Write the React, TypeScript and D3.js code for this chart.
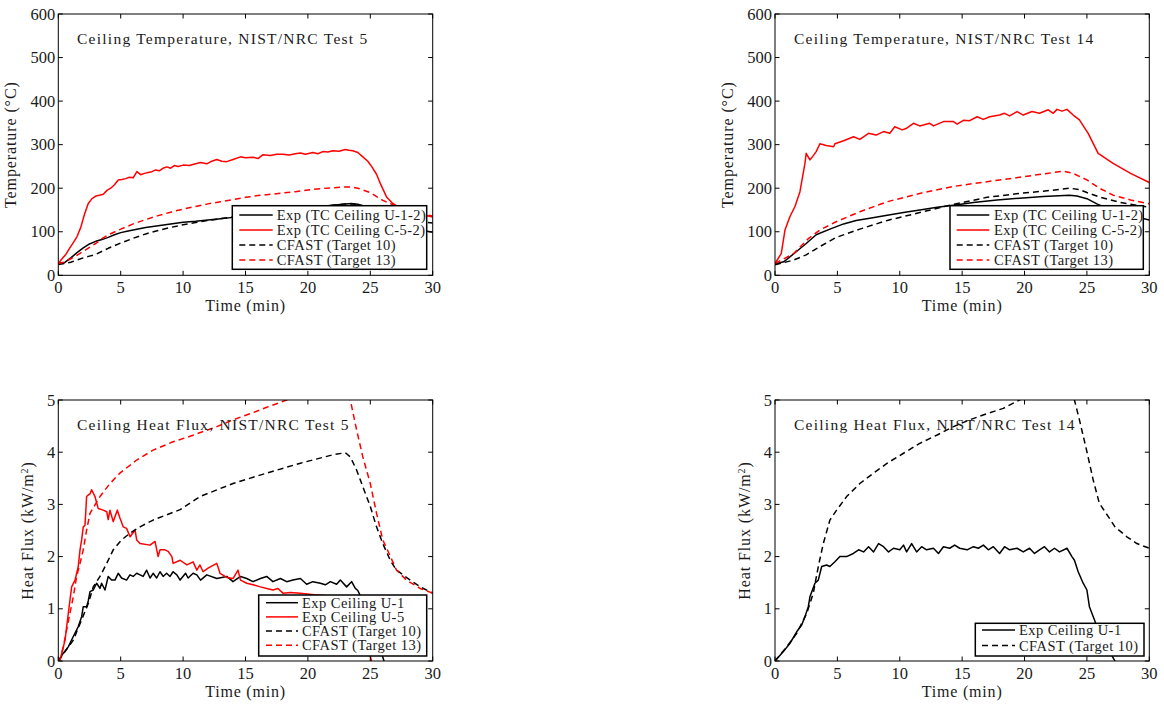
import React from 'react';
import * as d3 from 'd3';

// ---------------- DATA ----------------
const xTicks = [0, 5, 10, 15, 20, 25, 30];
const tempTicks = [0, 100, 200, 300, 400, 500, 600];
const fluxTicks = [0, 1, 2, 3, 4, 5];

// Test 5 ceiling temperature
const t5ExpU_t = [0, 0.5, 1, 1.5, 2, 2.5, 3, 3.5, 4, 4.5, 5, 5.5, 6, 7, 8, 9, 10, 11, 12, 13, 14, 15, 16, 17, 18, 19, 20, 21, 22, 23, 23.5, 24, 25, 26, 27, 28, 29, 30];
const t5ExpU_v = [27, 29, 40, 52, 63, 72, 78, 82, 87, 93, 98, 101, 104, 110, 114, 118, 122, 124, 127, 130, 133, 136, 140, 144, 148, 152, 155, 158, 161, 164, 165, 163, 155, 140, 125, 112, 104, 99];
const t5ExpC_t = [0, 0.3, 0.6, 0.9, 1.2, 1.5, 1.8, 2.1, 2.4, 2.7, 3.0, 3.3, 3.6, 3.9, 4.2, 4.5, 4.8, 5.1, 5.4, 5.7, 6.0, 6.3, 6.6, 6.9, 7.2, 7.5, 7.8, 8.1, 8.4, 8.7, 9.0, 9.3, 9.6, 10, 10.5, 11, 11.4, 11.9, 12.3, 12.7, 13.1, 13.5, 14, 14.6, 15, 15.6, 16, 16.4, 17, 17.5, 18, 18.5, 19, 19.4, 19.8, 20.4, 20.8, 21.2, 21.6, 22, 22.5, 23, 23.3, 23.6, 24, 24.4, 24.8, 25.1, 25.5, 25.8, 26.3, 26.8, 27.3, 28, 29, 30];
const t5ExpC_v = [27, 38, 48, 62, 75, 89, 110, 140, 165, 176, 182, 184, 186, 195, 200, 208, 219, 220, 222, 225, 224, 238, 231, 234, 236, 238, 242, 240, 246, 249, 246, 252, 250, 253, 252, 256, 259, 256, 262, 266, 262, 261, 266, 272, 270, 271, 268, 277, 275, 278, 278, 276, 279, 281, 278, 282, 279, 284, 283, 286, 285, 289, 287, 286, 282, 272, 262, 250, 232, 211, 180, 165, 156, 148, 140, 134];
const t5Cf10_t = [0, 0.5, 1, 1.5, 2, 2.5, 3, 4, 5, 6, 7, 8, 9, 10, 11, 12, 13, 14, 16, 18, 20, 22, 23, 23.5, 24, 25, 26, 27, 28, 29, 30];
const t5Cf10_v = [25, 27, 30, 35, 40, 44, 48, 62, 74, 85, 95, 103, 110, 116, 121, 126, 130, 134, 142, 149, 155, 161, 164, 164, 161, 153, 143, 134, 127, 123, 120];
const t5Cf13_t = [0, 0.5, 1, 1.5, 2, 2.5, 3, 3.5, 4, 5, 6, 7, 8, 9, 10, 11, 12, 13, 14, 15, 16, 17, 18, 19, 20, 21, 22, 23, 23.5, 24, 25, 26, 27, 28, 29, 30];
const t5Cf13_v = [27, 30, 38, 46, 55, 64, 73, 84, 93, 106, 118, 128, 137, 145, 152, 158, 164, 169, 174, 179, 183, 186, 189, 192, 196, 199, 201, 203, 203, 200, 190, 172, 160, 150, 142, 136];

// Test 14 ceiling temperature
const t14ExpU_t = [0, 0.7, 1.7, 2.5, 3.3, 4.4, 5.5, 6.5, 7.6, 9, 10.3, 11.6, 13, 14.3, 15.9, 17.8, 19.6, 21.5, 23.6, 24.2, 25, 25.8, 26.6, 27.5, 28.5, 30];
const t14ExpU_v = [26, 31, 54, 73, 93, 106, 118, 126, 131, 138, 144, 150, 156, 161, 167, 173, 177, 181, 184, 182, 176, 164, 154, 145, 137, 127];
const t14ExpC_t = [0, 0.5, 0.8, 1.2, 1.6, 2, 2.4, 2.5, 2.8, 3.1, 3.3, 3.6, 4.1, 4.7, 4.8, 5.5, 6.3, 6.8, 7.5, 8.1, 8.7, 9.2, 9.6, 10.2, 10.5, 11.1, 11.6, 12.4, 12.7, 13.5, 14.3, 14.6, 15.1, 15.6, 16.2, 16.7, 17.2, 18, 18.4, 18.8, 19.4, 19.9, 20.6, 21.2, 21.9, 22.3, 22.6, 23, 23.4, 23.9, 24.4, 25.1, 25.9, 27.1, 28.5, 30];
const t14ExpC_v = [27, 50, 104, 135, 158, 192, 257, 280, 265, 276, 284, 302, 298, 295, 302, 309, 318, 312, 326, 322, 330, 326, 341, 334, 337, 349, 343, 349, 343, 353, 353, 347, 356, 355, 364, 358, 364, 368, 372, 366, 376, 368, 376, 372, 380, 372, 381, 377, 381, 368, 357, 326, 280, 257, 234, 213];
const t14Cf10_t = [0, 1.5, 2.5, 3.6, 4.9, 6.8, 9, 11.6, 14.3, 17, 19.6, 21.8, 23.6, 24.4, 25, 26.1, 27.7, 30];
const t14Cf10_v = [24, 35, 47, 66, 87, 106, 126, 144, 163, 179, 188, 194, 200, 197, 190, 179, 167, 156];
const t14Cf13_t = [0, 1.5, 2.7, 3.6, 4.9, 6.8, 9, 11.6, 14.3, 17, 19.6, 21.8, 23.1, 23.9, 25, 26, 27.1, 28.5, 30];
const t14Cf13_v = [27, 50, 85, 104, 123, 146, 169, 188, 204, 215, 225, 234, 239, 234, 219, 200, 184, 173, 164];

// Test 5 ceiling heat flux
const f5ExpU1_t = [0, 0.4, 0.8, 1.2, 1.6, 1.87, 2.0, 2.27, 2.4, 2.54, 2.8, 3.07, 3.34, 3.47, 3.74, 4.0, 4.27, 4.54, 4.8, 5.07, 5.47, 5.74, 6.0, 6.28, 6.55, 6.8, 7.08, 7.35, 7.6, 7.88, 8.15, 8.4, 8.68, 8.95, 9.2, 9.5, 9.76, 10.2, 10.4, 10.8, 11.1, 11.4, 11.9, 12.7, 13.5, 14.0, 14.6, 15.1, 15.6, 16.2, 16.7, 17.2, 17.8, 18.3, 18.8, 19.4, 19.9, 20.4, 21.0, 21.4, 21.8, 22.3, 22.6, 23.1, 23.5, 23.8, 24.0, 24.5, 25.0, 25.5, 26.1, 26.6];
const f5ExpU1_v = [0, 0.15, 0.27, 0.47, 0.66, 0.85, 1.04, 1.04, 1.15, 1.33, 1.36, 1.49, 1.39, 1.49, 1.36, 1.62, 1.55, 1.55, 1.68, 1.59, 1.55, 1.65, 1.62, 1.68, 1.65, 1.62, 1.74, 1.59, 1.68, 1.59, 1.71, 1.62, 1.68, 1.62, 1.71, 1.65, 1.55, 1.68, 1.59, 1.68, 1.65, 1.55, 1.65, 1.58, 1.62, 1.52, 1.62, 1.58, 1.52, 1.58, 1.62, 1.52, 1.58, 1.52, 1.55, 1.58, 1.47, 1.52, 1.49, 1.46, 1.52, 1.47, 1.55, 1.42, 1.52, 1.39, 1.35, 1.1, 0.8, 0.45, 0, -0.3];
const f5ExpU5_t = [0, 0.14, 0.54, 0.8, 1.07, 1.34, 1.6, 1.74, 1.87, 2.0, 2.14, 2.27, 2.4, 2.54, 2.67, 2.94, 3.2, 3.6, 3.88, 4.0, 4.14, 4.4, 4.73, 4.94, 5.2, 5.47, 5.75, 6.15, 6.28, 6.55, 7.35, 7.75, 8.0, 8.15, 8.55, 8.8, 9.1, 9.2, 9.76, 10.3, 10.8, 11.1, 11.35, 11.6, 12.0, 12.7, 12.96, 13.5, 14.0, 14.4, 14.6, 15.1, 15.6, 16.2, 16.7, 17.2, 17.6, 18.0, 18.6, 19.4, 20.5, 21.5, 22.5, 23.5, 24.2, 25.1, 25.6];
const f5ExpU5_v = [0, 0.02, 0.4, 0.91, 1.42, 1.55, 1.81, 2.13, 2.32, 2.57, 2.6, 3.15, 3.18, 3.2, 3.28, 3.15, 2.92, 2.89, 2.86, 2.71, 2.89, 2.67, 2.89, 2.74, 2.57, 2.54, 2.38, 2.51, 2.32, 2.25, 2.22, 2.29, 2.0, 2.13, 2.13, 2.1, 2.0, 1.87, 1.93, 1.84, 1.9, 1.74, 1.84, 1.71, 1.78, 1.87, 1.68, 1.6, 1.58, 1.74, 1.55, 1.49, 1.46, 1.42, 1.39, 1.36, 1.39, 1.3, 1.31, 1.3, 1.27, 1.25, 1.22, 1.15, 0.8, 0, -0.3];
const f5Cf10_t = [0, 1.2, 1.87, 2.4, 2.8, 3.34, 3.88, 4.4, 5.07, 5.75, 6.55, 7.6, 8.68, 9.76, 11.35, 14, 16.7, 19.4, 22, 23.0, 23.4, 23.9, 24.4, 25.0, 25.5, 26.0, 26.6, 27.1, 28.2, 29, 30];
const f5Cf10_v = [0, 0.4, 0.79, 1.1, 1.42, 1.62, 1.87, 2.13, 2.32, 2.45, 2.57, 2.7, 2.8, 2.9, 3.15, 3.4, 3.6, 3.79, 3.95, 3.99, 3.91, 3.66, 3.34, 2.96, 2.57, 2.25, 1.93, 1.74, 1.55, 1.42, 1.3];
const f5Cf13_t = [0, 0.14, 0.4, 0.67, 0.94, 1.2, 1.47, 1.74, 2.0, 2.27, 2.54, 2.94, 3.34, 4.14, 4.94, 6.28, 7.6, 9.2, 10.5, 12.7, 14.0, 15.4, 16.7, 18.3, 20, 22, 23, 23.4, 23.9, 24.4, 25.0, 25.5, 26.0, 26.5, 27.1, 27.9, 29, 30];
const f5Cf13_v = [0, 0.02, 0.27, 0.6, 0.92, 1.23, 1.62, 1.87, 2.13, 2.51, 2.83, 2.99, 3.15, 3.4, 3.6, 3.85, 4.04, 4.2, 4.3, 4.49, 4.62, 4.74, 4.86, 5.0, 5.15, 5.3, 5.35, 5.0, 4.43, 3.91, 3.4, 2.83, 2.32, 2.06, 1.74, 1.55, 1.39, 1.3];

// Test 14 ceiling heat flux
const f14ExpU1_t = [0, 0.67, 1.2, 1.74, 2.14, 2.4, 2.67, 2.8, 3.2, 3.47, 3.74, 4.14, 4.4, 4.8, 5.2, 5.74, 6.28, 6.7, 7.1, 7.5, 7.9, 8.3, 8.7, 9.1, 9.5, 10.0, 10.3, 10.55, 10.95, 11.35, 11.75, 12.15, 12.7, 13.1, 13.5, 14.0, 14.4, 14.8, 15.4, 15.9, 16.3, 16.7, 17.1, 17.5, 18.0, 18.4, 18.8, 19.4, 19.9, 20.4, 20.8, 21.2, 21.6, 22.0, 22.4, 22.8, 23.4, 23.8, 24.0, 24.3, 24.7, 25.0, 25.2, 25.6, 26.0, 26.6, 27.25, 27.8];
const f14ExpU1_v = [0, 0.18, 0.34, 0.56, 0.69, 0.85, 1.04, 1.23, 1.49, 1.55, 1.81, 1.84, 1.81, 1.9, 2.0, 2.0, 2.06, 2.13, 2.09, 2.19, 2.09, 2.25, 2.19, 2.09, 2.16, 2.13, 2.22, 2.09, 2.25, 2.09, 2.19, 2.13, 2.16, 2.06, 2.19, 2.16, 2.22, 2.16, 2.13, 2.19, 2.16, 2.22, 2.13, 2.19, 2.06, 2.19, 2.13, 2.16, 2.09, 2.16, 2.06, 2.13, 2.19, 2.09, 2.16, 2.09, 2.16, 2.0, 1.93, 1.71, 1.49, 1.36, 1.04, 0.79, 0.53, 0.27, 0, -0.3];
const f14Cf10_t = [0, 0.94, 1.74, 2.54, 3.07, 3.47, 3.87, 4.4, 4.94, 5.74, 6.8, 7.9, 9, 10.3, 11.6, 13, 14.3, 15.6, 17, 18.3, 19.6, 21.5, 23, 24.0, 24.4, 25.0, 25.5, 26.0, 26.7, 27.25, 28.2, 29.0, 30];
const f14Cf10_v = [0, 0.27, 0.53, 0.91, 1.3, 1.81, 2.25, 2.7, 2.89, 3.15, 3.4, 3.6, 3.79, 3.98, 4.17, 4.33, 4.49, 4.62, 4.74, 4.84, 5.0, 5.3, 5.5, 5.0, 4.62, 4.01, 3.47, 3.02, 2.77, 2.57, 2.38, 2.25, 2.16];

// ---------------- LAYOUT ----------------
type S = { t: number[]; v: number[]; color: string; dashed: boolean; label: string };

const RED = '#ff0000';
const BLK = '#000000';

const panels = [
  {
    id: 'p1', left: 58.3, right: 432.7, top: 14, bottom: 275.3, ymax: 600, yticks: tempTicks,
    title: 'Ceiling Temperature, NIST/NRC Test 5', titleX: 77, titleY: 44,
    ylab: 'temp', ylabX: 16,
    legend: { x: 232.3, y: 205.7, w: 194.4, h: 63.6, sx0: 239.3, sx1: 272.7, tx: 276.7, r0: 215, dr: 15 },
    series: [
      { t: t5ExpU_t, v: t5ExpU_v, color: BLK, dashed: false, label: 'Exp (TC Ceiling U-1-2)' },
      { t: t5ExpC_t, v: t5ExpC_v, color: RED, dashed: false, label: 'Exp (TC Ceiling C-5-2)' },
      { t: t5Cf10_t, v: t5Cf10_v, color: BLK, dashed: true, label: 'CFAST (Target 10)' },
      { t: t5Cf13_t, v: t5Cf13_v, color: RED, dashed: true, label: 'CFAST (Target 13)' },
    ] as S[],
  },
  {
    id: 'p2', left: 775, right: 1149.3, top: 14, bottom: 275.3, ymax: 600, yticks: tempTicks,
    title: 'Ceiling Temperature, NIST/NRC Test 14', titleX: 794, titleY: 44,
    ylab: 'temp', ylabX: 733,
    legend: { x: 950, y: 205.7, w: 193.3, h: 63.6, sx0: 956.7, sx1: 989.3, tx: 994, r0: 215, dr: 15 },
    series: [
      { t: t14ExpU_t, v: t14ExpU_v, color: BLK, dashed: false, label: 'Exp (TC Ceiling U-1-2)' },
      { t: t14ExpC_t, v: t14ExpC_v, color: RED, dashed: false, label: 'Exp (TC Ceiling C-5-2)' },
      { t: t14Cf10_t, v: t14Cf10_v, color: BLK, dashed: true, label: 'CFAST (Target 10)' },
      { t: t14Cf13_t, v: t14Cf13_v, color: RED, dashed: true, label: 'CFAST (Target 13)' },
    ] as S[],
  },
  {
    id: 'p3', left: 58.3, right: 432.7, top: 400, bottom: 661, ymax: 5, yticks: fluxTicks,
    title: 'Ceiling Heat Flux, NIST/NRC Test 5', titleX: 77, titleY: 430,
    ylab: 'flux', ylabX: 33,
    legend: { x: 258.7, y: 595, w: 168, h: 61, sx0: 266, sx1: 298, tx: 302, r0: 602.7, dr: 14.2 },
    series: [
      { t: f5ExpU1_t, v: f5ExpU1_v, color: BLK, dashed: false, label: 'Exp Ceiling U-1' },
      { t: f5ExpU5_t, v: f5ExpU5_v, color: RED, dashed: false, label: 'Exp Ceiling U-5' },
      { t: f5Cf10_t, v: f5Cf10_v, color: BLK, dashed: true, label: 'CFAST (Target 10)' },
      { t: f5Cf13_t, v: f5Cf13_v, color: RED, dashed: true, label: 'CFAST (Target 13)' },
    ] as S[],
  },
  {
    id: 'p4', left: 775, right: 1149.3, top: 400, bottom: 661, ymax: 5, yticks: fluxTicks,
    title: 'Ceiling Heat Flux, NIST/NRC Test 14', titleX: 794, titleY: 430,
    ylab: 'flux', ylabX: 750,
    legend: { x: 975.3, y: 623.3, w: 168.7, h: 32.7, sx0: 982, sx1: 1015, tx: 1019, r0: 630, dr: 15.5 },
    series: [
      { t: f14ExpU1_t, v: f14ExpU1_v, color: BLK, dashed: false, label: 'Exp Ceiling U-1' },
      { t: f14Cf10_t, v: f14Cf10_v, color: BLK, dashed: true, label: 'CFAST (Target 10)' },
    ] as S[],
  },
];

const FONT = '"Liberation Serif", "Times New Roman", serif';
const TXT = '#1a1a1a';

function Panel({ p }: { p: typeof panels[number] }) {
  const x = d3.scaleLinear().domain([0, 30]).range([p.left, p.right]);
  const y = d3.scaleLinear().domain([0, p.ymax]).range([p.bottom, p.top]);
  const line = d3.line<[number, number]>().x(d => x(d[0])).y(d => y(d[1]));
  const tk = 4.5;
  const midY = (p.top + p.bottom) / 2;
  const L = p.legend;
  return (
    <g>
      <defs>
        <clipPath id={'clip-' + p.id}>
          <rect x={p.left} y={p.top} width={p.right - p.left} height={p.bottom - p.top} />
        </clipPath>
      </defs>
      <g clipPath={`url(#clip-${p.id})`}>
        {p.series.map((s, i) => (
          <path key={i} d={line(s.t.map((t, j) => [t, s.v[j]] as [number, number])) || ''}
            fill="none" stroke={s.color} strokeWidth={1.5}
            strokeDasharray={s.dashed ? '6,4' : undefined} strokeLinejoin="round" />
        ))}
      </g>
      <rect x={p.left} y={p.top} width={p.right - p.left} height={p.bottom - p.top} fill="none" stroke="#000" strokeWidth={1} />
      {xTicks.map(t => (
        <g key={'x' + t}>
          <line x1={x(t)} x2={x(t)} y1={p.bottom} y2={p.bottom - tk} stroke="#000" />
          <line x1={x(t)} x2={x(t)} y1={p.top} y2={p.top + tk} stroke="#000" />
          <text x={x(t)} y={p.bottom + 18} textAnchor="middle" fontSize={16.5} fontFamily={FONT} fill={TXT}>{t}</text>
        </g>
      ))}
      {p.yticks.map(v => (
        <g key={'y' + v}>
          <line x1={p.left} x2={p.left + tk} y1={y(v)} y2={y(v)} stroke="#000" />
          <line x1={p.right} x2={p.right - tk} y1={y(v)} y2={y(v)} stroke="#000" />
          <text x={p.left - 3} y={y(v) + 5.5} textAnchor="end" fontSize={16.5} fontFamily={FONT} fill={TXT}>{v}</text>
        </g>
      ))}
      <text x={p.titleX} y={p.titleY} fontSize={15.5} letterSpacing={1.25} fontFamily={FONT} fill={TXT}>{p.title}</text>
      <text x={(p.left + p.right) / 2} y={p.bottom + 36} textAnchor="middle" fontSize={16} letterSpacing={0.8} fontFamily={FONT} fill={TXT}>Time (min)</text>
      <text transform={`translate(${p.ylabX},${midY}) rotate(-90)`} textAnchor="middle" fontSize={16} letterSpacing={0.9} fontFamily={FONT} fill={TXT}>
        {p.ylab === 'temp' ? 'Temperature (°C)' : (<>Heat Flux (kW/m<tspan baselineShift="super" fontSize={10}>2</tspan>)</>)}
      </text>
      <rect x={L.x} y={L.y} width={L.w} height={L.h} fill="#fff" stroke="#000" strokeWidth={1.5} />
      {p.series.map((s, i) => (
        <g key={'l' + i}>
          <line x1={L.sx0} x2={L.sx1} y1={L.r0 + i * L.dr} y2={L.r0 + i * L.dr} stroke={s.color} strokeWidth={1.5}
            strokeDasharray={s.dashed ? '6,4' : undefined} />
          <text x={L.tx} y={L.r0 + i * L.dr + 5} fontSize={14.5} letterSpacing={0.45} fontFamily={FONT} fill={TXT}>{s.label}</text>
        </g>
      ))}
    </g>
  );
}

export default function App() {
  return (
    <svg width={1164} height={705} style={{ position: 'absolute', left: 0, top: 0, background: '#fff' }}>
      <rect x={0} y={0} width={1164} height={705} fill="#fff" />
      {panels.map(p => <Panel key={p.id} p={p} />)}
    </svg>
  );
}
